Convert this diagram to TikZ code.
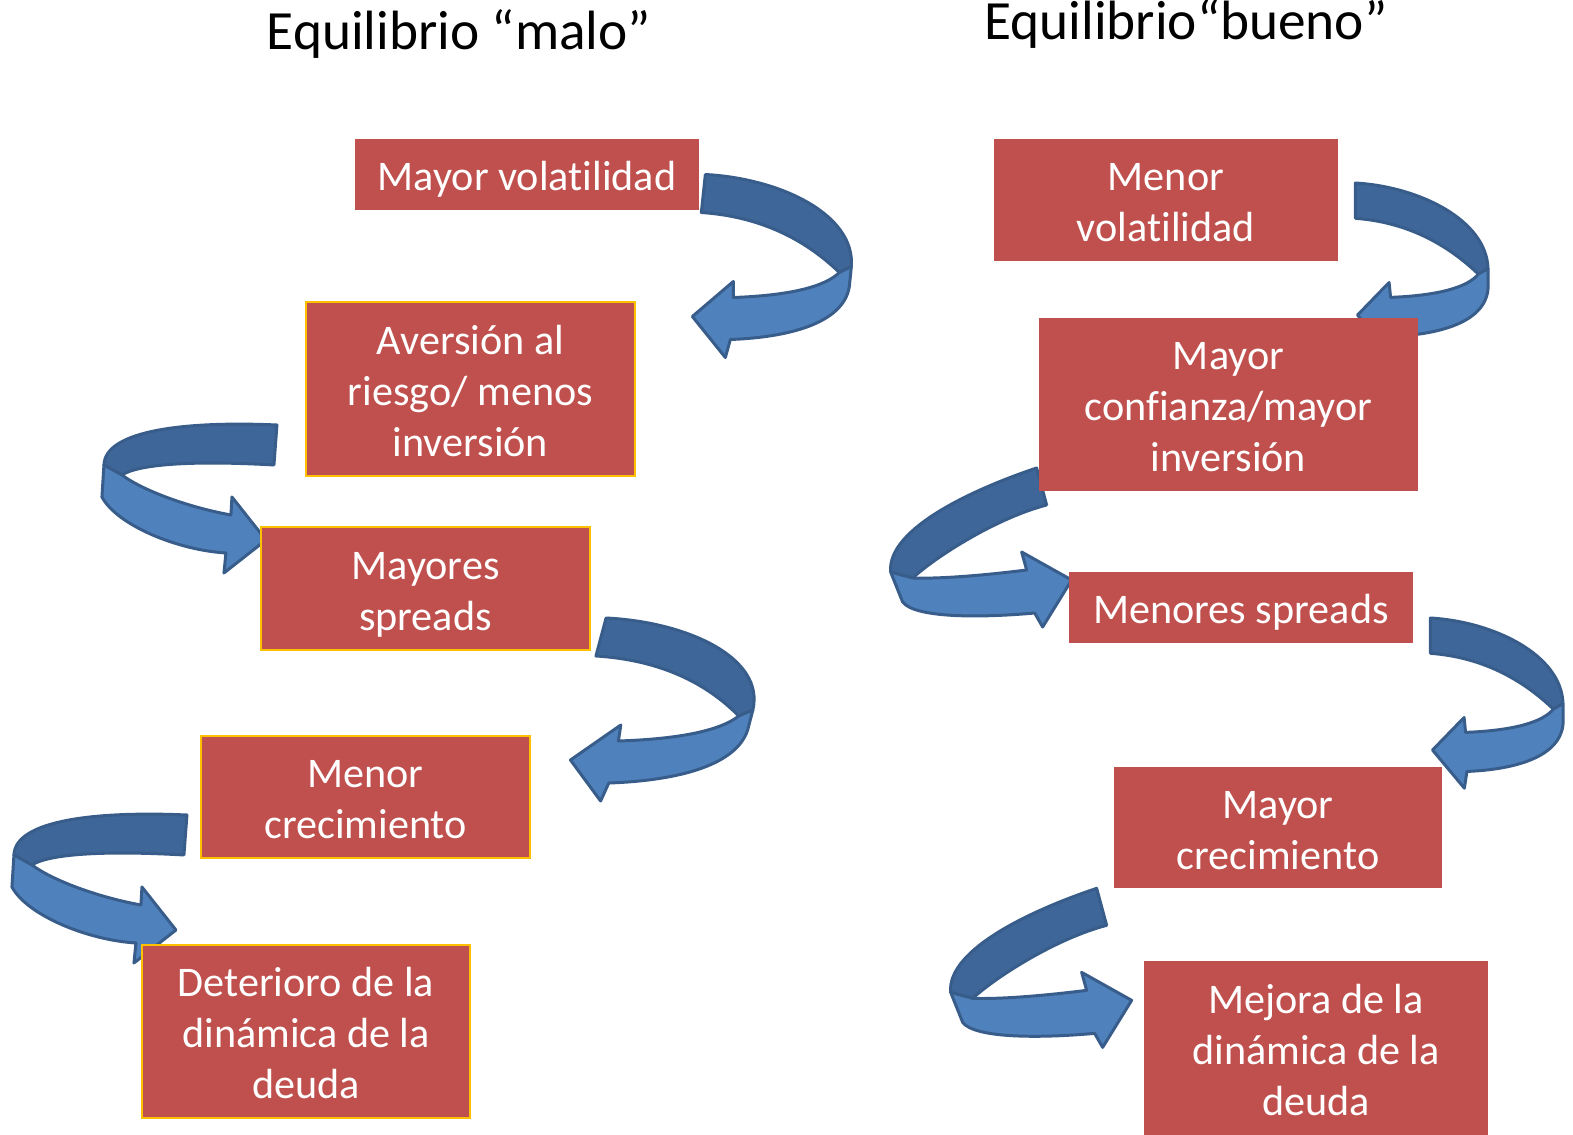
\documentclass[tikz,border=0pt]{standalone}
\usepackage{fontspec}
\setmainfont{Carlito}[Ligatures=CommonOff]
\usetikzlibrary{calc}
\usetikzlibrary{backgrounds}

\definecolor{boxred}{HTML}{C0504D}
\definecolor{boxgold}{HTML}{FFC000}
\definecolor{bandlight}{HTML}{4F81BD}
\definecolor{banddark}{HTML}{3F6698}
\definecolor{bandline}{HTML}{385D8A}

\tikzset{
  causebox/.style={fill=boxred, text=white, align=center, inner sep=0pt,
    font=\fontsize{24}{29}\selectfont, text height=26.5pt, text depth=8pt},
  twolines/.style={text height=55.5pt},
  threelines/.style={text height=84.5pt},
  goldedge/.style={draw=boxgold, line width=1.2pt},
  boxsize/.style 2 args={minimum width=#1*0.2mm, minimum height=#2*0.2mm},
  title/.style={font=\fontsize{31.5}{38}\selectfont, anchor=base},
  bandback/.style={fill=banddark, draw=bandline, line width=1.7pt, line join=round},
  bandfront/.style={fill=bandlight, draw=bandline, line width=1.7pt, line join=round},
  pics/hookright/.style={code={
    \filldraw[bandback] (0,0) .. controls (75,4) and (150,40) .. (146,92)
      -- (134,98) .. controls (100,65) and (55,42) .. (-4,38) -- cycle;
    \filldraw[bandfront] (134,98) -- (146,92) -- (144,112)
      .. controls (138,150) and (80,163) .. (25,165) -- (20,183) -- (-13,142)
      -- (28,107) -- (28,123) .. controls (85,121) and (120,112) .. (134,98) -- cycle;
  }},
  pics/hookleft/.style={code={
    \filldraw[bandback] (0,0) .. controls (-90,-4) and (-172,5) .. (-173,40)
      -- (-155,50) .. controls (-140,40) and (-90,35) .. (-3,40) -- cycle;
    \filldraw[bandfront] (-155,50) -- (-173,40) -- (-175,72)
      .. controls (-160,100) and (-100,125) .. (-51,128) -- (-53,148) -- (-11,115)
      -- (-45,72) -- (-46,90) .. controls (-90,82) and (-135,65) .. (-155,50) -- cycle;
  }},
  pics/sweepleft/.style={code={
    \filldraw[bandback] (0,0) .. controls (-60,20) and (-150,60) .. (-146,104)
      -- (-124,110) .. controls (-100,88) and (-40,50) .. (10,37) -- cycle;
    \filldraw[bandfront] (-124,110) -- (-146,104) -- (-134,134)
      .. controls (-122,150) and (-57,150) .. (-2,145) -- (6,159) -- (35,112)
      -- (-15,84) -- (-10,102) .. controls (-50,107) and (-95,111) .. (-124,110) -- cycle;
  }}
}

\begin{document}
\begin{tikzpicture}[x=0.2mm, y=-0.2mm]
  \useasboundingbox (0,0) rectangle (1573,1135);

  \node[title] (titlemalo) at (459,50) {Equilibrio “malo”};
  \node[title] (titlebueno) at (1186,40) {Equilibrio“bueno”};

  % equilibrio malo
  \node[causebox, boxsize={344}{71}] (mayorvol) at (527,174.5) {Mayor volatilidad};
  \node[causebox, threelines, goldedge, boxsize={329}{174}] (aversion) at (470.5,389) {Aversión al\\riesgo/ menos\\inversión};
  \node[causebox, twolines, goldedge, boxsize={329}{123}] (mayspreads) at (425.5,588.5) {Mayores\\spreads};
  \node[causebox, twolines, goldedge, boxsize={329}{122}] (menorcrec) at (365.5,797) {Menor\\crecimiento};
  \node[causebox, threelines, goldedge, boxsize={328}{173}] (deterioro) at (306,1031.5) {Deterioro de la\\dinámica de la\\deuda};

  % equilibrio bueno
  \node[causebox, twolines, boxsize={344}{122}] (menorvol) at (1166,200) {Menor\\volatilidad};
  \node[causebox, threelines, boxsize={379}{173}] (confianza) at (1228.5,404.5) {Mayor\\confianza/mayor\\inversión};
  \node[causebox, boxsize={344}{71}] (menspreads) at (1241,607.5) {Menores spreads};
  \node[causebox, twolines, boxsize={328}{121}] (maycrec) at (1278,827.5) {Mayor\\crecimiento};
  \node[causebox, threelines, boxsize={344}{174}] (mejora) at (1316,1048) {Mejora de la\\dinámica de la\\deuda};

  \begin{scope}[on background layer]
    \fill[white] (0,0) rectangle (1573,1135);
    \pic at ($(mayorvol.east)+(6,0)$) {hookright};
    \pic at ($(aversion.west)+(-28,36)$) {hookleft};
    \pic[xslant=0.15, xscale=1.1] at ($(mayspreads.east)+(15,29.5)$) {hookright};
    \pic at ($(menorcrec.west)+(-13,18)$) {hookleft};
    \pic[xslant=-0.1, xscale=0.85, yscale=0.93] at ($(menorvol.east)+(17,-17)$) {hookright};
    \pic at ($(confianza.west)+(-2,63.5)$) {sweepleft};
    \pic[xslant=-0.1, xscale=0.85, yscale=0.93] at ($(menspreads.east)+(17,10.5)$) {hookright};
    \pic at ($(maycrec.south west)+(-17,0)$) {sweepleft};
  \end{scope}
\end{tikzpicture}
\end{document}
